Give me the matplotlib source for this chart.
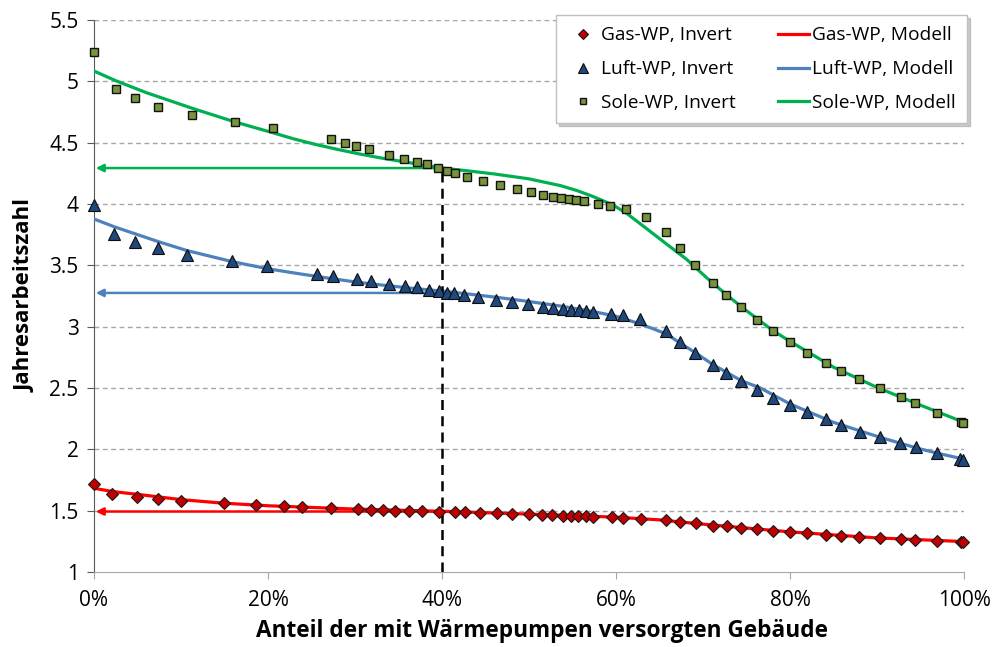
import matplotlib
matplotlib.use("Agg")
import matplotlib.pyplot as plt
from matplotlib.ticker import FixedLocator

plt.rcParams['font.family'] = ['Open Sans', 'DejaVu Sans']

# ---------------- data (share in %, Jahresarbeitszahl) ----------------
gas_x = [0, 2.1, 4.9, 7.4, 10.0, 14.9, 18.6, 21.8, 23.9, 27.2, 30.3, 31.8, 33.2, 34.6, 36.2,
         37.7, 39.6, 41.5, 42.6, 44.4, 46.3, 48.1, 50.0, 51.5, 52.7, 53.9, 54.8, 55.6, 56.5,
         57.4, 59.5, 60.8, 62.9, 65.8, 67.4, 69.2, 71.2, 72.8, 74.4, 76.2, 78.1, 80.0, 82.0,
         84.1, 85.9, 87.9, 90.3, 92.8, 94.4, 96.9, 99.7, 99.9]
gas_y = [1.716, 1.637, 1.612, 1.596, 1.582, 1.561, 1.55, 1.539, 1.533, 1.52, 1.515, 1.509,
         1.507, 1.501, 1.498, 1.498, 1.493, 1.49, 1.488, 1.482, 1.48, 1.476, 1.471, 1.466,
         1.466, 1.46, 1.46, 1.458, 1.455, 1.452, 1.447, 1.444, 1.436, 1.42, 1.409, 1.398,
         1.379, 1.371, 1.357, 1.349, 1.338, 1.327, 1.316, 1.305, 1.297, 1.286, 1.276, 1.267,
         1.264, 1.254, 1.248, 1.248]

luft_x = [0, 2.3, 4.7, 7.4, 10.7, 15.9, 19.9, 25.6, 27.5, 30.2, 31.8, 33.9, 35.7, 37.1, 38.5,
          39.7, 40.6, 41.4, 42.5, 44.1, 46.2, 48.0, 49.9, 51.6, 52.8, 53.9, 54.8, 55.7, 56.5,
          57.4, 59.4, 60.8, 62.8, 65.8, 67.4, 69.1, 71.2, 72.7, 74.4, 76.2, 78.0, 80.0, 82.0,
          84.1, 85.9, 88.0, 90.3, 92.7, 94.5, 96.9, 99.5, 99.9]
luft_y = [3.99, 3.756, 3.691, 3.64, 3.587, 3.533, 3.493, 3.433, 3.411, 3.389, 3.373, 3.348,
          3.332, 3.321, 3.302, 3.291, 3.277, 3.272, 3.259, 3.242, 3.216, 3.199, 3.183, 3.164,
          3.153, 3.142, 3.137, 3.134, 3.128, 3.123, 3.107, 3.093, 3.063, 2.965, 2.873, 2.789,
          2.688, 2.623, 2.556, 2.485, 2.419, 2.36, 2.303, 2.246, 2.199, 2.145, 2.099, 2.05,
          2.017, 1.973, 1.92, 1.914]

sole_x = [0, 2.5, 4.7, 7.4, 11.3, 16.2, 20.6, 27.2, 28.9, 30.1, 31.6, 33.9, 35.6, 37.1, 38.3,
          39.5, 40.6, 41.5, 42.9, 44.7, 46.7, 48.6, 50.2, 51.6, 52.8, 53.7, 54.6, 55.4, 56.3,
          57.9, 59.3, 61.1, 63.5, 65.8, 67.4, 69.1, 71.2, 72.7, 74.4, 76.2, 78.0, 80.0, 82.0,
          84.1, 85.9, 87.9, 90.3, 92.8, 94.4, 96.9, 99.6, 99.9]
sole_y = [5.24, 4.935, 4.862, 4.794, 4.728, 4.666, 4.617, 4.528, 4.50, 4.476, 4.446, 4.402,
          4.367, 4.34, 4.324, 4.296, 4.272, 4.256, 4.223, 4.19, 4.155, 4.125, 4.101, 4.076,
          4.06, 4.047, 4.039, 4.033, 4.022, 4.00, 3.984, 3.957, 3.897, 3.77, 3.639, 3.503,
          3.354, 3.256, 3.158, 3.055, 2.963, 2.873, 2.786, 2.705, 2.637, 2.572, 2.498, 2.427,
          2.378, 2.30, 2.226, 2.218]

# model curves
gas_mx = [0, 2.1, 4.9, 10, 14.9, 20, 30, 40, 50, 60, 65, 70, 80, 90, 100]
gas_my = [1.683, 1.656, 1.634, 1.59, 1.561, 1.54, 1.513, 1.495, 1.472, 1.447, 1.425, 1.39,
          1.327, 1.278, 1.248]

luft_mx = [0, 2.3, 7.4, 10.7, 15.9, 19.9, 23.7, 27, 30, 33, 37, 40.6, 46.2, 50, 53.9, 57.4,
           60, 62, 64, 65.8, 67.4, 69.1, 71.2, 74.4, 76.6, 80, 85, 90.3, 94.6, 96.9, 100]
luft_my = [3.878, 3.815, 3.693, 3.62, 3.53, 3.473, 3.43, 3.395, 3.365, 3.34, 3.31, 3.286,
           3.24, 3.205, 3.165, 3.123, 3.085, 3.04, 2.99, 2.94, 2.865, 2.789, 2.688, 2.56,
           2.5, 2.37, 2.22, 2.099, 2.01, 1.969, 1.92]

sole_mx = [0, 2.5, 6, 11.3, 16.2, 20.6, 23, 25.5, 28, 30.5, 33, 36, 38, 40, 43, 46, 50, 53.6,
           55.5, 57.4, 59.7, 61.2, 63.5, 65.8, 68.1, 70.4, 72.7, 75, 78, 80, 85, 90, 95, 100]
sole_my = [5.084, 5.005, 4.908, 4.78, 4.669, 4.58, 4.53, 4.485, 4.445, 4.408, 4.375, 4.34,
           4.315, 4.293, 4.27, 4.245, 4.205, 4.15, 4.11, 4.06, 3.99, 3.925, 3.80, 3.674, 3.55,
           3.40, 3.26, 3.13, 2.97, 2.88, 2.67, 2.505, 2.36, 2.22]

# arrows at 40 %
arrow_x = 40
gas_arrow_y = 1.493
luft_arrow_y = 3.275
sole_arrow_y = 4.293

x_ticks = [0, 20, 40, 60, 80, 100]
x_labels = ['0%', '20%', '40%', '60%', '80%', '100%']
y_ticks = [1, 1.5, 2, 2.5, 3, 3.5, 4, 4.5, 5, 5.5]
y_labels = ['1', '1.5', '2', '2.5', '3', '3.5', '4', '4.5', '5', '5.5']

# ---------------- styles ----------------
RED = '#FF0000'
BLUE = '#4F81BD'
GREEN = '#00B050'

fig = plt.figure(figsize=(9.92, 6.47), dpi=100)
ax = fig.add_axes([94/992, 1-572/647, 870/992, 552/647])
ax.set_xlim(0, 100)
ax.set_ylim(1, 5.5)

# grid
for yv in y_ticks[1:]:
    ax.axhline(yv, color='#a6a6a6', lw=1, ls=(0, (3.5, 2.5)), zorder=0)

# model lines
lg, = ax.plot(gas_mx, gas_my, color=RED, lw=2.3, zorder=2, label='Gas-WP, Modell')
ll, = ax.plot(luft_mx, luft_my, color=BLUE, lw=2.3, zorder=2, label='Luft-WP, Modell')
ls_, = ax.plot(sole_mx, sole_my, color=GREEN, lw=2.3, zorder=2, label='Sole-WP, Modell')

# arrows
for yv, c in [(gas_arrow_y, RED), (luft_arrow_y, BLUE), (sole_arrow_y, GREEN)]:
    ax.annotate('', xy=(0.2, yv), xytext=(arrow_x, yv),
                arrowprops=dict(arrowstyle='-|>', color=c, lw=1.8, mutation_scale=11,
                                shrinkA=0, shrinkB=0), zorder=2)

# dashed vertical line
ax.plot([arrow_x, arrow_x], [1, sole_arrow_y], color='black', lw=1.8,
        ls=(0, (4, 2.5)), zorder=3)

# points
pg, = ax.plot(gas_x, gas_y, ls='none', marker='D', ms=6.5, mfc='#C00000', mec='#1a1a1a',
              mew=0.8, zorder=4, clip_on=False, label='Gas-WP, Invert')
pl, = ax.plot(luft_x, luft_y, ls='none', marker='^', ms=9, mfc='#1F497D', mec='#0d0d0d',
              mew=0.8, zorder=4, clip_on=False, label='Luft-WP, Invert')
ps, = ax.plot(sole_x, sole_y, ls='none', marker='s', ms=6.3, mfc='#77933C', mec='#111111',
              mew=1.0, zorder=4, clip_on=False, label='Sole-WP, Invert')

# axes styling
for s in ['top', 'right']:
    ax.spines[s].set_visible(False)
ax.spines['left'].set_color('#595959')
ax.spines['bottom'].set_color('#a6a6a6')
ax.spines['left'].set_zorder(1)

ax.xaxis.set_major_locator(FixedLocator(x_ticks))
ax.set_xticklabels(x_labels)
ax.yaxis.set_major_locator(FixedLocator(y_ticks))
ax.set_yticklabels(y_labels)
ax.tick_params(axis='y', direction='out', length=5, color='#595959', labelsize=15, pad=6)
ax.tick_params(axis='x', direction='out', length=5, color='#a6a6a6', labelsize=15, pad=8)

ax.set_xlabel('Anteil der mit Wärmepumpen versorgten Gebäude', fontsize=16.3,
              fontweight='bold', labelpad=9)
ax.xaxis.set_label_coords(0.515, -0.085)
ax.set_ylabel('Jahresarbeitszahl', fontsize=16, fontweight='bold', labelpad=10)

leg = ax.legend(handles=[pg, pl, ps, lg, ll, ls_], ncol=2, loc='upper right',
                bbox_to_anchor=((967-94)/870, (572-15)/552), borderaxespad=0,
                fontsize=13.8,
                frameon=True, fancybox=False, edgecolor='#bfbfbf', framealpha=1,
                shadow={'color': '#999999', 'alpha': 0.5},
                handlelength=1.6, handletextpad=0.15, columnspacing=2.2,
                labelspacing=0.82, borderpad=0.6, markerscale=0.75)
leg.get_frame().set_linewidth(1)
leg.set_zorder(10)

fig.savefig('out.png', dpi=100)
